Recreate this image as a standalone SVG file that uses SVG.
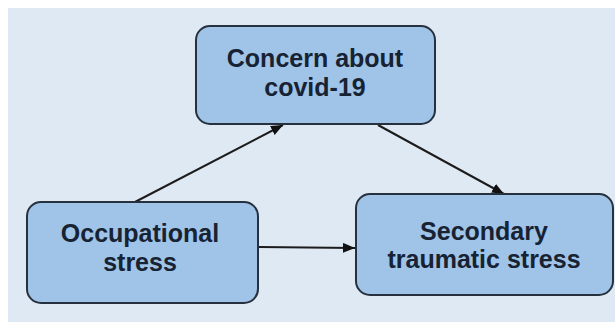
<svg xmlns="http://www.w3.org/2000/svg" width="615" height="324" viewBox="0 0 615 324">
<style>
.box{fill:#9fc4e8;stroke:#27313d;stroke-width:2}
.t{font-family:"Liberation Sans",Arial,sans-serif;font-weight:bold;font-size:25px;fill:#172233;text-anchor:middle}
.c{stroke:#1c1c1c;stroke-width:2;fill:none}
</style>
<defs>
<marker id="ah" viewBox="0 0 12 10" refX="12" refY="5" markerWidth="12" markerHeight="10" markerUnits="userSpaceOnUse" orient="auto">
<path d="M0,0 L12,5 L0,10 Z" fill="#111"/>
</marker>
</defs>
<rect x="0" y="0" width="615" height="324" fill="#ffffff"/>
<rect x="8" y="8" width="607" height="314" fill="#dfe9f4"/>
<g id="connectors">
<line class="c" x1="135" y1="202" x2="283" y2="125" marker-end="url(#ah)"/>
<line class="c" x1="378" y1="125" x2="504" y2="194" marker-end="url(#ah)"/>
<line class="c" x1="259" y1="247" x2="355" y2="248" marker-end="url(#ah)"/>
</g>
<g id="concern">
<rect class="box" x="196" y="26" width="239" height="98" rx="14"/>
<text class="t" x="315" y="67">Concern about</text>
<text class="t" x="315" y="96">covid-19</text>
</g>
<g id="occupational">
<rect class="box" x="27" y="202" width="231" height="101" rx="14"/>
<text class="t" x="140" y="242">Occupational</text>
<text class="t" x="140" y="271">stress</text>
</g>
<g id="secondary">
<rect class="box" x="356" y="194" width="257" height="101" rx="14"/>
<text class="t" x="484" y="240">Secondary</text>
<text class="t" x="484" y="268">traumatic stress</text>
</g>
</svg>
